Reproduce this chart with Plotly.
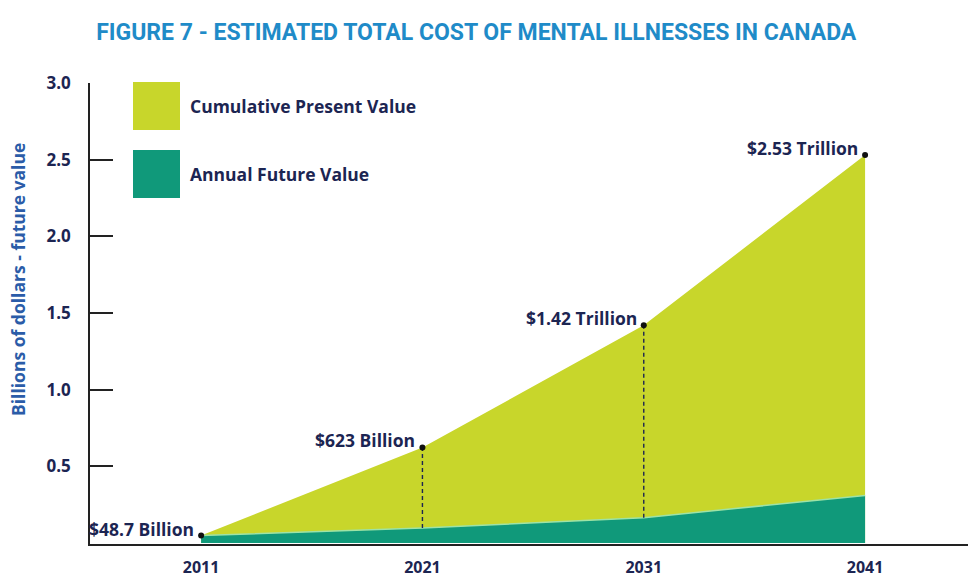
import plotly.graph_objects as go

# Estimated total cost of mental illnesses in Canada (trillions of dollars)
years = [2011, 2021, 2031, 2041]
cumulative_present = [0.0487, 0.623, 1.42, 2.53]
annual_future = [0.0487, 0.098, 0.165, 0.31]
value_labels = ["$48.7 Billion", "$623 Billion", "$1.42 Trillion", "$2.53 Trillion"]
y_ticks = [0.5, 1.0, 1.5, 2.0, 2.5, 3.0]
y_tick_text = ["0.5", "1.0", "1.5", "2.0", "2.5", "3.0"]

LIME = "#c8d62b"
TEAL = "#10997a"
NAVY = "#1c2552"
TITLE_BLUE = "#1f8bc8"
AXIS_BLUE = "#2b5ca8"
FONT = "'Open Sans', Lato, sans-serif"
TITLE_FONT = "Roboto, sans-serif"

fig = go.Figure()

fig.add_trace(go.Scatter(
    x=years, y=cumulative_present, mode="lines", fill="tozeroy",
    fillcolor=LIME, line=dict(color=LIME, width=0),
    name="Cumulative Present Value", showlegend=False, hoverinfo="skip",
))
fig.add_trace(go.Scatter(
    x=years, y=annual_future, mode="lines", fill="tozeroy",
    fillcolor=TEAL, line=dict(color="#9ee3a6", width=1.5),
    name="Annual Future Value", showlegend=False, hoverinfo="skip",
))

# dashed drop lines from the cumulative value down to the annual band
for i in (1, 2):
    fig.add_trace(go.Scatter(
        x=[years[i], years[i]], y=[annual_future[i], cumulative_present[i]],
        mode="lines", line=dict(color=NAVY, width=1.4, dash="4px,3px"),
        showlegend=False, hoverinfo="skip",
    ))

fig.add_trace(go.Scatter(
    x=years, y=cumulative_present, mode="markers",
    marker=dict(color="#111111", size=6), showlegend=False, hoverinfo="skip",
))

annotations = []
for x, y, t in zip(years, cumulative_present, value_labels):
    annotations.append(dict(
        x=x, y=y, xref="x", yref="y", text=t, showarrow=False,
        xanchor="right", yanchor="middle", xshift=-5, yshift=7,
        font=dict(family=FONT, size=17.5, color=NAVY, weight="bold"),
    ))

# legend entries
legend_items = [("Cumulative Present Value", LIME, 82), ("Annual Future Value", TEAL, 150)]
shapes = []
for label, color, top in legend_items:
    y0 = (544 - top) / 461
    y1 = (544 - (top + 48)) / 461
    shapes.append(dict(
        type="rect", xref="paper", yref="paper",
        x0=(133 - 90) / 878, x1=(180 - 90) / 878, y0=y1, y1=y0,
        fillcolor=color, line=dict(width=0), layer="above",
    ))
    annotations.append(dict(
        x=(188 - 90) / 878, y=(y0 + y1) / 2, xref="paper", yref="paper",
        text=label, showarrow=False, xanchor="left", yanchor="middle",
        font=dict(family=FONT, size=17.5, color=NAVY, weight="bold"),
    ))

annotations.append(dict(
    x=0, y=(544 - 280) / 461, xref="paper", yref="paper", xshift=-72,
    text="Billions of dollars - future value", textangle=-90, showarrow=False,
    xanchor="center", yanchor="middle",
    font=dict(family=FONT, size=17.5, color=AXIS_BLUE, weight="bold"),
))

fig.update_layout(
    width=968, height=582,
    margin=dict(l=90, r=0, t=83, b=38),
    paper_bgcolor="white", plot_bgcolor="white",
    title=dict(
        text="FIGURE 7 - ESTIMATED TOTAL COST OF MENTAL ILLNESSES IN CANADA",
        x=0.492, xanchor="center", y=1 - 32 / 582, yanchor="middle",
        font=dict(family=TITLE_FONT, size=23, color=TITLE_BLUE, weight="bold"),
    ),
    xaxis=dict(
        range=[2005.98, 2045.65], tickvals=years, ticktext=[str(y) for y in years],
        showgrid=False, zeroline=False, showline=True, linecolor="#222222", linewidth=1.5,
        ticks="", ticklabelstandoff=8, automargin=False,
        tickfont=dict(family=FONT, size=16, color=NAVY, weight="bold"),
    ),
    yaxis=dict(
        range=[-0.0065, 3.0], tickvals=y_ticks, ticktext=y_tick_text,
        showgrid=False, zeroline=False, showline=True, linecolor="#222222", linewidth=1.5,
        ticks="inside", ticklen=23, tickcolor="#222222", tickwidth=1.5,
        ticklabelstandoff=14, automargin=False,
        tickfont=dict(family=FONT, size=17, color=NAVY, weight="bold"),
    ),
    annotations=annotations,
    shapes=shapes,
)

fig.write_html("out.html")
